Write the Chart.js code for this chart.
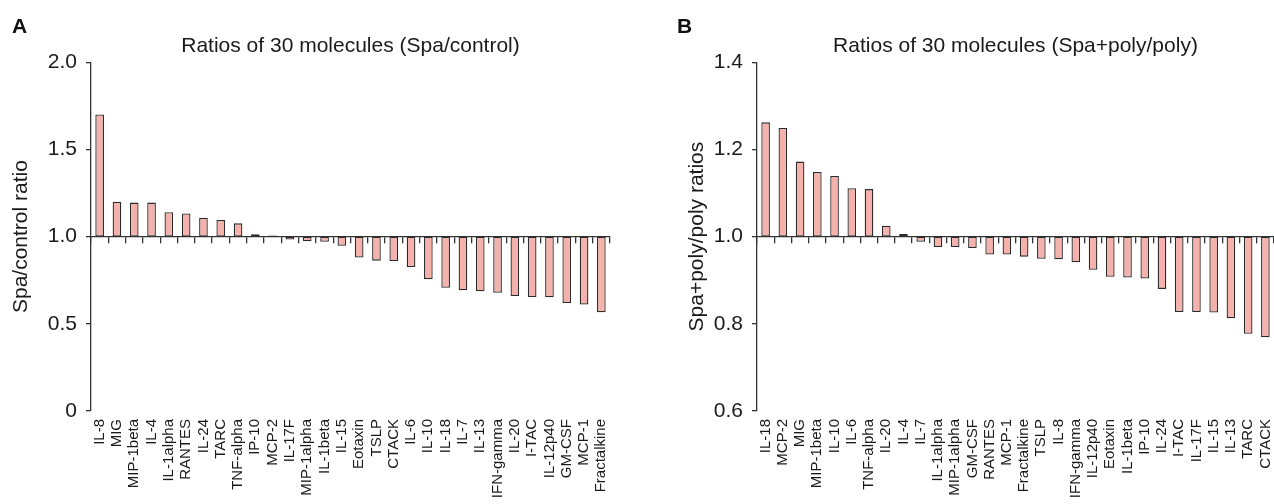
<!DOCTYPE html>
<html>
<head>
<meta charset="utf-8">
<title>Ratios of 30 molecules</title>
<script src="https://cdn.jsdelivr.net/npm/chart.js@4.4.1/dist/chart.umd.min.js"></script>
<style>
  body { margin: 0; background: #fff; overflow: hidden; }
  .panel { position: absolute; top: 0; height: 504px; }
  .tag { position: absolute; top: 15px; font: bold 21px "Liberation Sans", Arial, sans-serif; line-height: 21px; color: #111; }
</style>
</head>
<body>
<div class="panel" style="left:0;width:637px"><canvas id="chartA"></canvas></div>
<div class="panel" style="left:640px;width:634px"><canvas id="chartB"></canvas></div>
<div class="tag" style="left:12px">A</div>
<div class="tag" style="left:677px">B</div>
<script>
/*** Data ***/
const labelsA = ['IL-8', 'MIG', 'MIP-1beta', 'IL-4', 'IL-1alpha', 'RANTES', 'IL-24', 'TARC', 'TNF-alpha', 'IP-10',
    'MCP-2', 'IL-17F', 'MIP-1alpha', 'IL-1beta', 'IL-15', 'Eotaxin', 'TSLP', 'CTACK', 'IL-6', 'IL-10',
    'IL-18', 'IL-7', 'IL-13', 'IFN-gamma', 'IL-20', 'I-TAC', 'IL-12p40', 'GM-CSF', 'MCP-1', 'Fractalkine'];
const valuesA = [1.70, 1.20, 1.195, 1.195, 1.14, 1.133, 1.108, 1.095, 1.076, 1.014,
    1.007, 0.983, 0.973, 0.97, 0.947, 0.88, 0.862, 0.86, 0.825, 0.756,
    0.707, 0.693, 0.686, 0.678, 0.659, 0.653, 0.652, 0.619, 0.611, 0.566];
const ticksA = [0, 0.5, 1.0, 1.5, 2.0];

const labelsB = ['IL-18', 'MCP-2', 'MIG', 'MIP-1beta', 'IL-10', 'IL-6', 'TNF-alpha', 'IL-20', 'IL-4', 'IL-7',
    'IL-1alpha', 'MIP-1alpha', 'GM-CSF', 'RANTES', 'MCP-1', 'Fractalkine', 'TSLP', 'IL-8', 'IFN-gamma', 'IL-12p40',
    'Eotaxin', 'IL-1beta', 'IP-10', 'IL-24', 'I-TAC', 'IL-17F', 'IL-15', 'IL-13', 'TARC', 'CTACK'];
const valuesB = [1.262, 1.249, 1.172, 1.148, 1.139, 1.111, 1.109, 1.025, 1.006, 0.988,
    0.976, 0.976, 0.974, 0.959, 0.959, 0.954, 0.949, 0.948, 0.941, 0.924,
    0.908, 0.906, 0.904, 0.880, 0.827, 0.827, 0.826, 0.813, 0.777, 0.769];
const ticksB = [0.6, 0.8, 1.0, 1.2, 1.4];

const baseline = 1;

/*** Styles ***/
const fontFamily = '"Liberation Sans", Arial, sans-serif';
const ink = '#1a1a1a';
const axisInk = '#333';
const barFill = 'rgb(245, 178, 172)';
const barEdge = '#2b2b2b';

/*** Draw chart function ***/
function drawRatioChart(canvasId, labels, values, yTicks, title, yTitle, axisWidth, yTitlePad, padRight) {
    return new Chart(document.getElementById(canvasId), {
        type: 'bar',
        data: {
            labels: labels,
            datasets: [{
                data: values.map(v => [baseline, v]),
                xAxisID: 'x',
                yAxisID: 'y',
                backgroundColor: barFill,
                borderColor: barEdge,
                borderWidth: 1.3,
                borderSkipped: false,
                barPercentage: 0.5,
                categoryPercentage: 1
            }]
        },
        options: {
            responsive: true,
            maintainAspectRatio: false,
            animation: false,
            layout: { padding: { left: 0, right: padRight, top: 0, bottom: 0 } },
            plugins: {
                legend: { display: false },
                tooltip: { enabled: false },
                title: {
                    display: true,
                    text: title,
                    fullSize: false,
                    color: ink,
                    font: { family: fontFamily, size: 21, weight: 'normal' },
                    padding: { top: 34, bottom: 3 }
                }
            },
            scales: {
                y: {
                    position: 'left',
                    min: yTicks[0],
                    max: yTicks[yTicks.length - 1],
                    afterFit: s => { s.width = axisWidth; },
                    afterBuildTicks: s => { s.ticks = yTicks.map(v => ({ value: v })); },
                    border: { display: true, color: axisInk, width: 1.3 },
                    grid: { display: true, drawOnChartArea: false, drawTicks: true, tickLength: 5, color: axisInk, lineWidth: 1.3 },
                    ticks: {
                        color: ink,
                        padding: 9,
                        font: { family: fontFamily, size: 21 },
                        callback: v => v === 0 ? '0' : Number(v).toFixed(1)
                    },
                    title: {
                        display: true,
                        text: yTitle,
                        color: ink,
                        font: { family: fontFamily, size: 21 },
                        padding: { top: yTitlePad, bottom: 0 }
                    }
                },
                x: {
                    type: 'category',
                    axis: 'x',
                    position: { y: baseline },
                    offset: true,
                    afterFit: s => { s.height = 0; s.paddingLeft = 0; s.paddingRight = 0; },
                    border: { display: true, color: axisInk, width: 1.3 },
                    grid: { display: true, offset: true, drawOnChartArea: false, drawTicks: true, tickLength: 6, color: axisInk, lineWidth: 1.3 },
                    ticks: { display: false }
                },
                x2: {
                    type: 'category',
                    axis: 'x',
                    position: 'bottom',
                    offset: true,
                    afterFit: s => { s.height = 93; s.paddingLeft = 0; s.paddingRight = 0; },
                    border: { display: false },
                    grid: { display: false, drawTicks: false },
                    ticks: {
                        autoSkip: false,
                        maxRotation: 90,
                        minRotation: 90,
                        padding: 8,
                        color: ink,
                        font: { family: fontFamily, size: 15 }
                    }
                }
            }
        }
    });
}

drawRatioChart('chartA', labelsA, valuesA, ticksA,
    'Ratios of 30 molecules (Spa/control)', 'Spa/control ratio', 91, 9, 27);
drawRatioChart('chartB', labelsB, valuesB, ticksB,
    'Ratios of 30 molecules (Spa+poly/poly)', 'Spa+poly/poly ratios', 117, 45, 0);
</script>
</body>
</html>
